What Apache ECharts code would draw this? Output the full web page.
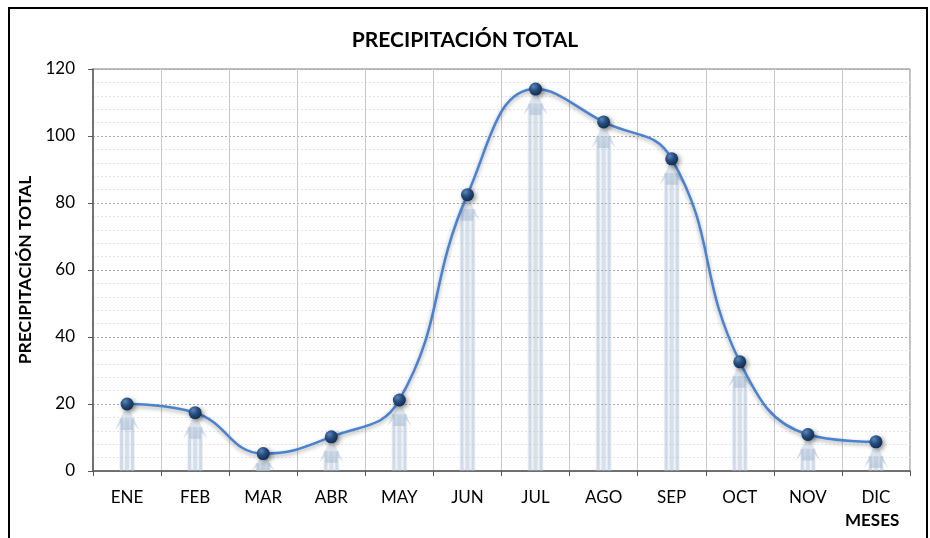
<!DOCTYPE html>
<html><head><meta charset="utf-8">
<script src="https://cdn.jsdelivr.net/npm/echarts@6/dist/echarts.min.js"></script>
<style>html,body{margin:0;padding:0;background:#fff}#c{width:930px;height:538px}</style>
</head><body><div id="c"></div>
<script>
const categories = ['ENE','FEB','MAR','ABR','MAY','JUN','JUL','AGO','SEP','OCT','NOV','DIC'];
const precipitacion = [20.0, 17.4, 5.2, 10.2, 21.2, 82.5, 114.0, 104.2, 93.2, 32.6, 10.9, 8.7];
const yTicks = { min: 0, max: 120, interval: 20 };
const titleText = 'PRECIPITACIÓN TOTAL';
const yName = 'PRECIPITACIÓN TOTAL';
const xName = 'MESES';

const FONT = 'Lato';
const chart = echarts.init(document.getElementById('c'));

function arrowItem(params, api) {
  const x = api.value(0), v = api.value(1);
  const top = api.coord([x, v]);
  const bot = api.coord([x, 0]);
  const cx = top[0];
  const headH = Math.min(26, bot[1] - top[1]);
  const shaftTop = top[1] + headH * 0.55;
  const stripe = (dx, w, op) => ({
    type: 'rect',
    shape: { x: cx + dx, y: shaftTop, width: w, height: Math.max(0, bot[1] - shaftTop) },
    style: { fill: 'rgba(170,190,212,' + op + ')' }
  });
  return {
    type: 'group',
    children: [
      stripe(-8, 16, 0.18),
      stripe(-7, 3, 0.45),
      stripe(-2, 4, 0.35),
      stripe(4, 3, 0.45),
      {
        type: 'polygon',
        shape: { points: [[cx, top[1]], [cx + 12, top[1] + headH], [cx + 6, top[1] + headH * 0.72], [cx + 6, top[1] + headH], [cx - 6, top[1] + headH], [cx - 6, top[1] + headH * 0.72], [cx - 12, top[1] + headH]] },
        style: {
          fill: new echarts.graphic.LinearGradient(0, 0, 0, 1, [
            { offset: 0, color: 'rgba(170,190,212,0.2)' },
            { offset: 1, color: 'rgba(170,190,212,0.6)' }
          ])
        }
      }
    ]
  };
}

chart.setOption({
  animation: false,
  title: {
    text: titleText, left: 'center', top: 25,
    textStyle: { fontFamily: FONT, fontWeight: 'bold', fontSize: 21, color: '#000' }
  },
  graphic: [
    { type: 'rect', shape: { x: 9, y: 8, width: 918, height: 560 }, style: { fill: 'none', stroke: '#000', lineWidth: 2 }, z: 100 },
    { type: 'text', left: 845, top: 512, style: { text: xName, font: 'bold 17px ' + FONT, fill: '#000' } }
  ],
  grid: { left: 93, right: 20, top: 69, bottom: 67, show: true, borderColor: '#7f7f7f', borderWidth: 1 },
  xAxis: {
    type: 'category', data: categories, boundaryGap: true,
    axisLine: { lineStyle: { color: '#595959', width: 1.5 } },
    axisTick: { show: true, length: 5, lineStyle: { color: '#595959' } },
    axisLabel: { fontFamily: FONT, fontSize: 17, color: '#000', margin: 18 },
    splitLine: { show: true, lineStyle: { color: '#c8c8c8', width: 1 } }
  },
  yAxis: {
    type: 'value', min: yTicks.min, max: yTicks.max, interval: yTicks.interval,
    name: yName, nameLocation: 'middle', nameGap: 58, nameRotate: 90,
    nameTextStyle: { fontFamily: FONT, fontWeight: 'bold', fontSize: 17.5, color: '#000' },
    axisLine: { show: true, lineStyle: { color: '#595959', width: 1.5 } },
    axisTick: { show: true, length: 5, lineStyle: { color: '#595959' } },
    axisLabel: { fontFamily: FONT, fontSize: 17, color: '#000', margin: 18 },
    splitLine: { show: true, lineStyle: { color: '#a6a6a6', type: [2, 2], width: 1 } },
    minorTick: { show: false, splitNumber: 5 },
    minorSplitLine: { show: true, lineStyle: { color: '#e3e3e3', type: [2, 2], width: 1 } }
  },
  series: [
    {
      type: 'custom', renderItem: arrowItem, z: 1,
      data: precipitacion.map((v, i) => [i, v]),
      encode: { x: 0, y: 1 }
    },
    {
      type: 'line', data: precipitacion, smooth: 0.45, z: 5,
      symbol: 'circle', symbolSize: 13,
      lineStyle: { color: '#4a82d0', width: 2.5, shadowColor: 'rgba(0,0,0,0.35)', shadowBlur: 4, shadowOffsetY: 2 },
      itemStyle: {
        color: new echarts.graphic.RadialGradient(0.35, 0.3, 0.7, [
          { offset: 0, color: '#5d86b8' },
          { offset: 0.5, color: '#254d80' },
          { offset: 1, color: '#142e52' }
        ]),
        borderWidth: 0, shadowColor: 'rgba(0,0,0,0.45)', shadowBlur: 5, shadowOffsetX: 2, shadowOffsetY: 2
      }
    }
  ]
});
</script></body></html>
